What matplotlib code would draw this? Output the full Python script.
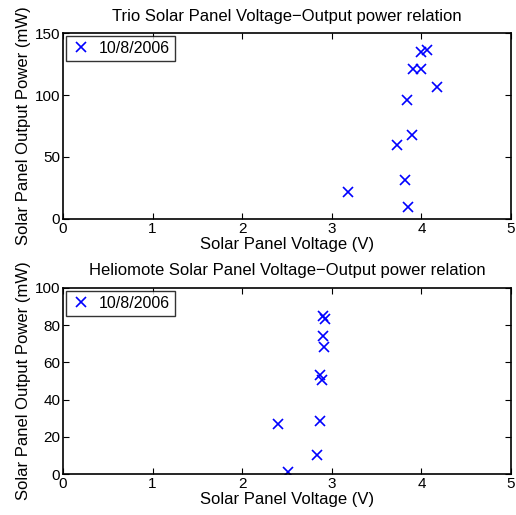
import numpy as np
import matplotlib.pyplot as plt

plt.rcParams['font.family'] = ['Liberation Sans', 'DejaVu Sans']
plt.rcParams['font.size'] = 11

# Trio panel, 10/8/2006
trio_v = [3.18, 3.85, 3.82, 3.73, 3.89, 3.84, 4.17, 3.91, 3.99, 3.99, 4.06]
trio_p = [21.5, 9.4, 31.5, 59.4, 67.5, 95.7, 106.7, 121, 121, 134.7, 136.3]

# Heliomote panel, 10/8/2006
helio_v = [2.905, 2.92, 2.90, 2.91, 2.865, 2.89, 2.40, 2.865, 2.835, 2.51]
helio_p = [85.1, 83.3, 74.2, 68.1, 53.1, 50.5, 26.7, 28.3, 10.4, 0.9]

fig = plt.figure(figsize=(5.16, 5.15), dpi=100)
ax1 = fig.add_axes([0.1221, 0.5748, 0.8682, 0.3611])
ax2 = fig.add_axes([0.1221, 0.0796, 0.8682, 0.3612])

panels = [
    (ax1, trio_v, trio_p, 'Trio Solar Panel Voltage\u2212Output power relation', [0, 50, 100, 150], 150),
    (ax2, helio_v, helio_p, 'Heliomote Solar Panel Voltage\u2212Output power relation', [0, 20, 40, 60, 80, 100], 100),
]

for ax, v, p, title, yt, ymax in panels:
    ax.plot(v, p, 'x', color='#0000ff', markersize=7, markeredgewidth=1.2, label='10/8/2006')
    ax.set_xlim(0, 5)
    ax.set_ylim(0, ymax)
    ax.set_xticks([0, 1, 2, 3, 4, 5])
    ax.set_yticks(yt)
    ax.tick_params(direction='in', top=True, right=True, length=4, width=0.8, pad=2, labelsize=11)
    ax.set_title(title, pad=9, fontsize=12)
    ax.set_xlabel('Solar Panel Voltage (V)', labelpad=1, fontsize=12)
    ax.set_ylabel('Solar Panel Output Power (mW)', labelpad=3, fontsize=12)
    for s in ax.spines.values():
        s.set_linewidth(1.2)
    leg = ax.legend(loc='upper left', frameon=True, fancybox=False, fontsize=11.5,
                    handlelength=1.3, handletextpad=0.45, borderpad=0.3,
                    borderaxespad=0.2, edgecolor='black')
    leg.get_frame().set_linewidth(1.0)

fig.savefig('out.png', dpi=100)
